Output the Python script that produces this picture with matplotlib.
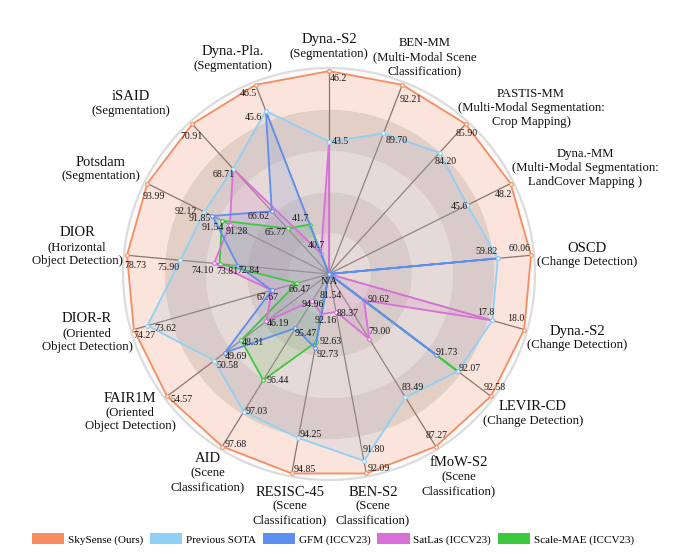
import numpy as np
import matplotlib
matplotlib.use('Agg')
import matplotlib.pyplot as plt
from matplotlib.patches import Patch

plt.rcParams['font.family'] = ['Liberation Serif', 'DejaVu Serif']

# ── data ────────────────────────────────────────────────────
TASKS = ['Dyna.-S2', 'BEN-MM', 'PASTIS-MM', 'Dyna.-MM', 'OSCD', 'Dyna.-S2',
         'LEVIR-CD', 'fMoW-S2', 'BEN-S2', 'RESISC-45', 'AID', 'FAIR1M',
         'DIOR-R', 'DIOR', 'Potsdam', 'iSAID', 'Dyna.-Pla.']
SUBTITLES = ['(Segmentation)',
             '(Multi-Modal Scene\nClassification)',
             '(Multi-Modal Segmentation:\nCrop Mapping)',
             '(Multi-Modal Segmentation:\nLandCover Mapping )',
             '(Change Detection)',
             '(Change Detection)',
             '(Change Detection)',
             '(Scene\nClassification)',
             '(Scene\nClassification)',
             '(Scene\nClassification)',
             '(Scene\nClassification)',
             '(Oriented\nObject Detection)',
             '(Oriented\nObject Detection)',
             '(Horizontal\nObject Detection)',
             '(Segmentation)',
             '(Segmentation)',
             '(Segmentation)']
DECIMALS = [1, 2, 2, 1, 2, 1, 2, 2, 2, 2, 2, 2, 2, 2, 2, 2, 1]
# lower end of every axis (value drawn at the centre)
AXIS_MIN = [38.45, 82.45, 77.0, 37.3, 58.6, 16.77, 90.08, 74.0, 87.5, 91.48,
            94.46, 40.9, 64.93, 68.0, 88.02, 63.53, 40.0]

nan = np.nan
SKYSENSE  = [46.2, 92.21, 85.90, 48.2, 60.06, 18.0, 92.58, 87.27, 92.09, 94.85,
             97.68, 54.57, 74.27, 78.73, 93.99, 70.91, 46.5]
PREV_SOTA = [43.5, 89.70, 84.20, 45.6, 59.82, 17.8, 92.07, 83.49, 91.80, 94.25,
             97.03, 50.58, 73.62, 75.90, 92.12, 68.71, 45.6]
GFM       = [nan, nan, nan, nan, 59.82, nan, 91.73, nan, nan, 92.73,
             95.47, 49.69, 67.67, 72.84, 91.85, 66.62, 45.6]
SATLAS    = [43.5, nan, nan, nan, nan, 17.8, 90.62, 79.00, 88.37, 92.16,
             94.96, 46.19, 67.67, 74.10, 91.28, 68.71, 40.7]
SCALE_MAE = [nan, nan, nan, nan, nan, nan, 92.07, nan, 81.54, 92.63,
             96.44, 48.31, 66.47, 73.81, 91.54, 65.77, 41.7]

SERIES = [('SkySense (Ours)', SKYSENSE, '#f98b60'),
          ('Previous SOTA', PREV_SOTA, '#91d0f5'),
          ('GFM (ICCV23)', GFM, '#5d8ff0'),
          ('SatLas (ICCV23)', SATLAS, '#d96fd9'),
          ('Scale-MAE (ICCV23)', SCALE_MAE, '#3dc93d')]

# ── layout (pixel offsets) ──────────────────────────────────
TITLE_POS = [(0, 234), (96, 231), (202, 180), (256, 120), (258, 26),
             (248, -57), (204, -133), (130, -189), (44, -218), (-39, -218),
             (-121, -185), (-199, -124), (-242, -45), (-252, 41),
             (-228, 112), (-198, 177), (-96, 222)]
LABEL_OFFSETS = {
    (0, '46.2'): (9, -7), (0, '43.5'): (11, 0),
    (1, '92.21'): (8, -15), (1, '89.70'): (13, -7),
    (2, '85.90'): (1, -9), (2, '84.20'): (6, -9),
    (3, '48.2'): (-7, -11), (3, '45.6'): (-8, -1),
    (4, '60.06'): (-11, 7), (4, '59.82'): (-11, 7),
    (5, '18.0'): (-8, 11), (5, '17.8'): (-7, 8),
    (6, '92.58'): (4, 9), (6, '92.07'): (12, 3), (6, '91.73'): (11, 2),
    (6, '90.62'): (15, 1),
    (7, '87.27'): (1, 11), (7, '83.49'): (7, 10), (7, '79.00'): (10, 8),
    (8, '92.09'): (12, 5), (8, '91.80'): (10, 11), (8, '88.37'): (12, -2),
    (8, '81.54'): (2, -22),
    (9, '94.85'): (13, 4), (9, '94.25'): (12, 3), (9, '92.73'): (13, -7),
    (9, '92.63'): (14, 1), (9, '92.16'): (4, -6),
    (10, '97.68'): (14, 2), (10, '97.03'): (13, 0), (10, '96.44'): (14, 0),
    (10, '95.47'): (10, -5), (10, '94.96'): (0, -4),
    (11, '54.57'): (14, -3), (11, '50.58'): (13, -5), (11, '49.69'): (11, -4),
    (11, '48.31'): (12, -2), (11, '46.19'): (12, -2),
    (12, '74.27'): (11, -6), (12, '73.62'): (18, -3), (12, '67.67'): (-4, -7),
    (12, '66.47'): (3, -6),
    (13, '78.73'): (8, -10), (13, '75.90'): (-12, -7), (13, '74.10'): (-12, -7),
    (13, '73.81'): (8, -8), (13, '72.84'): (11, -5),
    (14, '93.99'): (6, -13), (14, '92.12'): (-19, 0), (14, '91.85'): (-13, -3),
    (14, '91.54'): (-9, -7), (14, '91.28'): (7, -7),
    (15, '70.91'): (-1, -12), (15, '68.71'): (-9, -6), (15, '66.62'): (-13, -5),
    (15, '65.77'): (-12, -4),
    (16, '46.5'): (-7, -9), (16, '45.6'): (-12, -7), (16, '41.7'): (-9, 6),
    (16, '40.7'): (-5, 8),
}
R_TOP = 0.985
MM_AXES = {1, 2, 3}

theta = np.linspace(0, 2 * np.pi, len(TASKS), endpoint=False)


def radius(v, i):
    if np.isnan(v):
        return 0.0
    return R_TOP * float(np.clip((v - AXIS_MIN[i]) / (SKYSENSE[i] - AXIS_MIN[i]), 0, 1))


fig = plt.figure(figsize=(6.77, 5.57), dpi=100)
ax = fig.add_axes([123 / 677, 77 / 557, 412 / 677, 412 / 557], projection='polar')
ax.set_theta_zero_location('N')
ax.set_theta_direction(-1)
ax.set_ylim(0, 1.0)
ax.set_xticks([])
ax.set_yticks([])
ax.grid(False)
ax.spines['polar'].set_visible(False)
ax.set_facecolor('none')

# background rings
full = np.linspace(0, 2 * np.pi, 400)
ring_cols = ['#f6f6f6', '#e0e0e0', '#f6f6f6', '#e0e0e0', '#fbfbfb']
for k, c in enumerate(ring_cols):
    ax.fill_between(full, 0.2 * k, 0.2 * (k + 1), color=c, lw=0, zorder=0)
ax.plot(full, np.ones_like(full), color='#dcdcdc', lw=1.6, zorder=0.5, clip_on=False)

# spokes
for t in theta:
    ax.plot([t, t], [0, R_TOP], color='#707070', lw=0.9, zorder=1)

# series (last legend entry drawn first)
for k, (name, vals, col) in enumerate(SERIES[::-1]):
    rr = [radius(v, i) for i, v in enumerate(vals)]
    tt = np.append(theta, theta[0])
    rr = np.append(rr, rr[0])
    ax.fill(tt, rr, color=col, alpha=0.2, lw=0, zorder=2)
    ax.plot(tt, rr, color=col, lw=1.3, zorder=3 + k * 0.1, marker='o', markersize=2.6,
            markerfacecolor='white', markeredgecolor=col, markeredgewidth=0.8)

# value labels
for i in range(len(TASKS)):
    seen = []
    for name, vals, col in SERIES:
        v = vals[i]
        if np.isnan(v):
            continue
        txt = f'{v:.{DECIMALS[i]}f}'
        if txt in seen:
            continue
        seen.append(txt)
        dx, dy = LABEL_OFFSETS.get((i, txt), (8, -6))
        ax.annotate(txt, xy=(theta[i], radius(v, i)), xytext=(dx, dy),
                    textcoords='offset pixels', ha='center', va='center',
                    fontsize=7.1, color='#1a1a1a', zorder=5)

ax.annotate('N/A', xy=(0, 0), xytext=(0, -7), textcoords='offset pixels',
            ha='center', va='center', fontsize=7.1, color='#1a1a1a', zorder=5)

# axis names
for i, (task, sub) in enumerate(zip(TASKS, SUBTITLES)):
    dx, dy = TITLE_POS[i]
    tsize = 9.2 if i in MM_AXES else 10.5
    ax.annotate(task, xy=(0, 0), xytext=(dx, dy), textcoords='offset pixels',
                ha='center', va='center', fontsize=tsize, color='#111111')
    ax.annotate(sub, xy=(0, 0), xytext=(dx, dy - 8), textcoords='offset pixels',
                ha='center', va='top', fontsize=9.2, color='#111111',
                linespacing=1.2, multialignment='center')

handles = [Patch(facecolor=col, edgecolor='none') for _, _, col in SERIES]
fig.legend(handles, [s[0] for s in SERIES], loc='center',
           bbox_to_anchor=(0.492, 18 / 557), ncol=5, frameon=False,
           fontsize=8.0, handlelength=2.9, handleheight=1.15,
           handletextpad=0.35, columnspacing=0.6, borderaxespad=0)

fig.savefig('out.png', dpi=100, facecolor='white')
